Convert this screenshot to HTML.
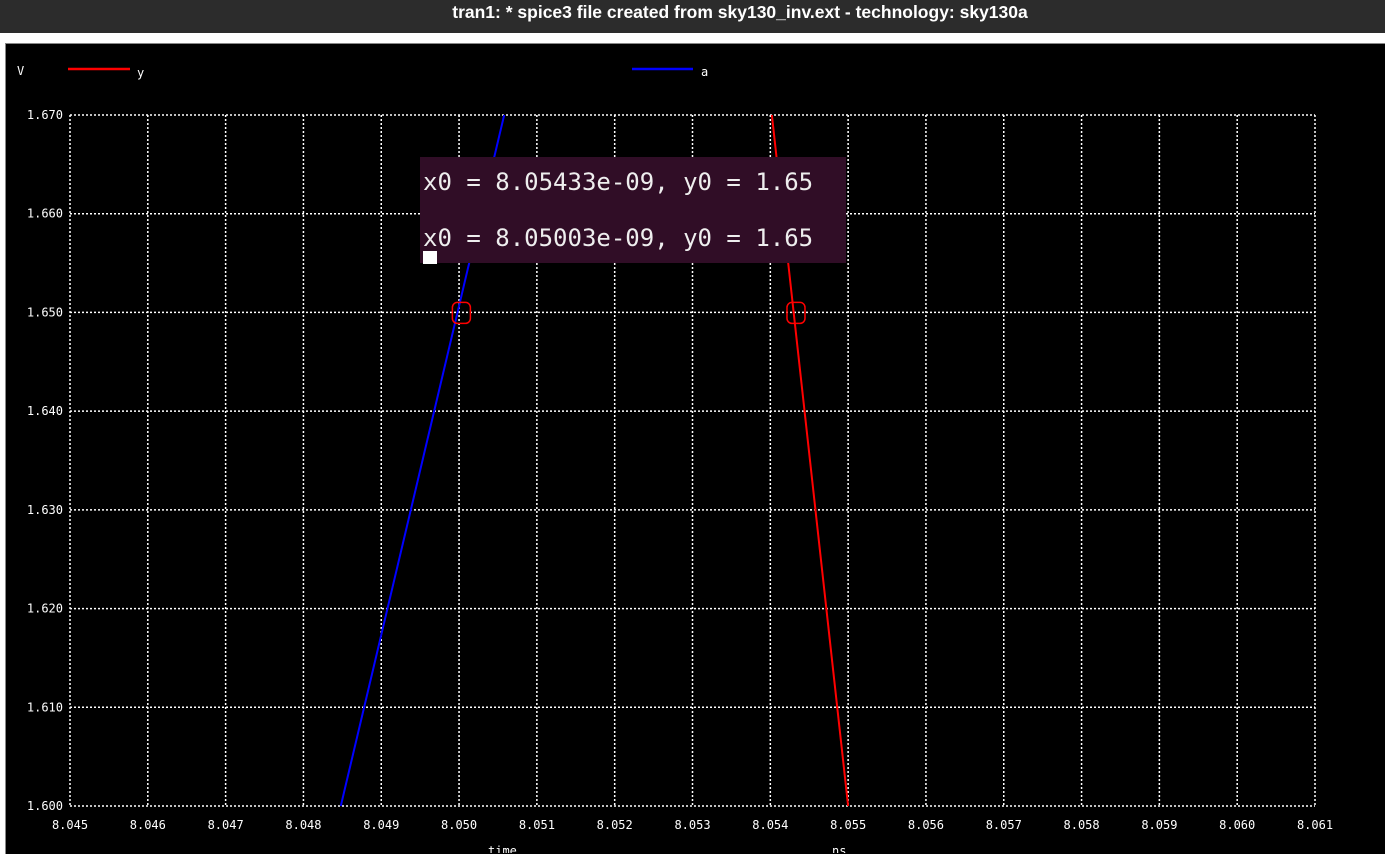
<!DOCTYPE html>
<html><head><meta charset="utf-8"><style>
html,body{margin:0;padding:0;width:1385px;height:853px;overflow:hidden;background:#fff;}
#title{position:absolute;left:0;top:0;width:1385px;height:33px;background:#2c2c2c;}
#title span{position:absolute;left:440px;top:2px;width:600px;text-align:center;color:#fff;font:bold 17.5px "Liberation Sans",sans-serif;white-space:nowrap;}
#win{position:absolute;left:5px;top:43px;width:1380px;height:810px;background:#000;border-left:1px solid #888;border-top:1px solid #888;}
svg{position:absolute;left:0;top:0;}
#tip{position:absolute;left:420px;top:157px;width:426px;height:106px;background:#300d26;color:#eee;font:24px "DejaVu Sans Mono",monospace;}
</style></head><body>
<div id="title"><span>tran1: * spice3 file created from sky130_inv.ext - technology: sky130a</span></div>
<div id="win"></div>
<svg id="chart" width="1385" height="853"></svg>
<div id="tip">
<div style="position:absolute;left:3px;top:11px">x0 = 8.05433e-09, y0 = 1.65</div>
<div style="position:absolute;left:3px;top:67px">x0 = 8.05003e-09, y0 = 1.65</div>
<div style="position:absolute;left:3px;top:94px;width:14px;height:13px;background:#fff"></div>
</div>
<script>
const xTicks=[8.045,8.046,8.047,8.048,8.049,8.050,8.051,8.052,8.053,8.054,8.055,8.056,8.057,8.058,8.059,8.060,8.061];
const yTicks=[1.600,1.610,1.620,1.630,1.640,1.650,1.660,1.670];
const seriesAx=[8.04848,8.05058];
const seriesAy=[1.600,1.670];
const seriesYx=[8.05402,8.0550];
const seriesYy=[1.670,1.600];
const markX=[8.05003,8.05433];
const markY=[1.65,1.65];
const X=v=>70+(v-8.045)/0.016*1245;
const Y=v=>806-(v-1.600)/0.070*691;
const svg=document.getElementById('chart');
const NS='http://www.w3.org/2000/svg';
function mk(t,a){const e=document.createElementNS(NS,t);for(const k in a)e.setAttribute(k,a[k]);svg.appendChild(e);return e;}
const F='font-family:"DejaVu Sans Mono",monospace;font-size:12px;fill:#fff';
xTicks.forEach(v=>{
 const l=mk('line',{x1:X(v),x2:X(v),y1:Y(1.67),y2:Y(1.6),stroke:'#fff','stroke-dasharray':'2,2','stroke-width':1.5});
 
 
 const t=mk('text',{x:X(v),y:829,'text-anchor':'middle',style:F});t.textContent=v.toFixed(3);
 
 
});
yTicks.forEach(v=>{
 const l=mk('line',{x1:X(8.045),x2:X(8.061),y1:Y(v),y2:Y(v),stroke:'#fff','stroke-dasharray':'2,2','stroke-width':1.5});
 
 
 const t=mk('text',{x:63,y:Y(v)+4,'text-anchor':'end',style:F});t.textContent=v.toFixed(3);
 
 
});
const a=mk('line',{x1:X(seriesAx[0]),y1:Y(seriesAy[0]),x2:X(seriesAx[1]),y2:Y(seriesAy[1]),stroke:'#00f','stroke-width':2});


const y=mk('line',{x1:X(seriesYx[0]),y1:Y(seriesYy[0]),x2:X(seriesYx[1]),y2:Y(seriesYy[1]),stroke:'#f00','stroke-width':2});


markX.forEach((v,i)=>{
 const r=mk('rect',{x:X(v)-9,y:Y(markY[i])-10,width:18,height:21,rx:5,fill:'none',stroke:'#f00','stroke-width':1.5});
 
 
});
</script>
<svg width="1385" height="853" style="position:absolute;left:0;top:0">
<text x="17" y="75" style='font-family:"DejaVu Sans Mono",monospace;font-size:12px;fill:#fff'>V</text>
<line x1="68" y1="69" x2="130" y2="69" stroke="#f00" stroke-width="2.5"/>
<text x="137" y="77" style='font-family:"DejaVu Sans Mono",monospace;font-size:12px;fill:#fff'>y</text>
<line x1="632" y1="69" x2="693" y2="69" stroke="#00f" stroke-width="2.5"/>
<text x="701" y="76" style='font-family:"DejaVu Sans Mono",monospace;font-size:12px;fill:#fff'>a</text>
<text x="488" y="855" style='font-family:"DejaVu Sans Mono",monospace;font-size:12px;fill:#fff'>time</text>
<text x="832" y="855" style='font-family:"DejaVu Sans Mono",monospace;font-size:12px;fill:#fff'>ns</text>
</svg>
</body></html>
